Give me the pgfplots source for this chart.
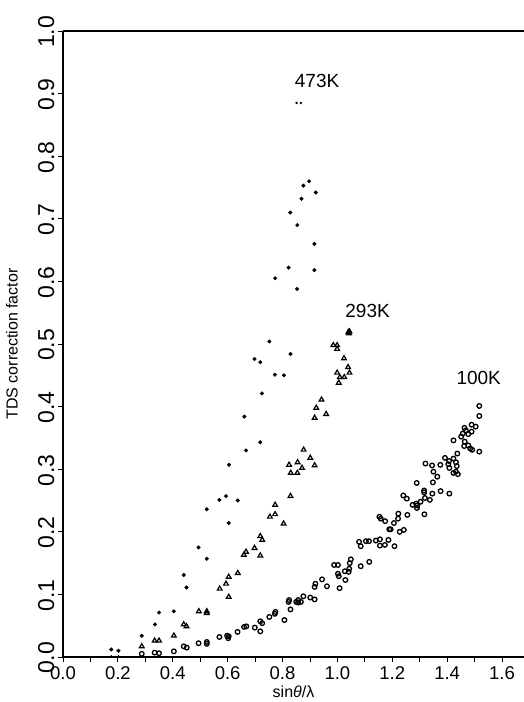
\documentclass[border=0pt]{standalone}
\usepackage{fontspec}
\setmainfont{Liberation Sans}
\usepackage{pgfplots}
\pgfplotsset{compat=1.18}

\pgfplotstableread{
x y
0.176 0.012
0.202 0.010
0.287 0.034
0.335 0.052
0.350 0.071
0.404 0.073
0.440 0.131
0.450 0.111
0.494 0.175
0.524 0.157
0.524 0.236
0.570 0.251
0.594 0.257
0.637 0.250
0.604 0.214
0.605 0.307
0.667 0.330
0.719 0.343
0.661 0.384
0.725 0.421
0.772 0.451
0.805 0.450
0.698 0.476
0.719 0.471
0.829 0.484
0.752 0.504
0.853 0.588
0.773 0.605
0.916 0.618
0.822 0.622
0.916 0.660
0.854 0.690
0.828 0.710
0.869 0.732
0.921 0.742
0.876 0.753
0.897 0.760
}\hot

\pgfplotstableread{
x y
0.000 0.000
0.176 0.001
0.202 0.001
0.851 0.885
0.867 0.885
}\hotsmall

\pgfplotstableread{
x y
1.040 0.519
1.044 0.520
1.042 0.517
0.985 0.498
0.999 0.498
0.999 0.492
1.024 0.477
1.039 0.463
0.999 0.454
1.009 0.447
1.025 0.447
1.044 0.454
1.005 0.438
0.942 0.411
0.923 0.398
0.959 0.388
0.917 0.382
0.877 0.331
0.901 0.318
0.855 0.311
0.824 0.307
0.917 0.306
0.871 0.302
0.830 0.294
0.854 0.294
0.829 0.257
0.773 0.243
0.754 0.224
0.773 0.228
0.804 0.213
0.719 0.193
0.726 0.187
0.698 0.174
0.659 0.163
0.667 0.168
0.719 0.162
0.637 0.134
0.604 0.128
0.594 0.117
0.571 0.109
0.604 0.096
0.495 0.073
0.524 0.073
0.524 0.070
0.440 0.052
0.450 0.049
0.404 0.034
0.334 0.026
0.350 0.026
0.287 0.017
}\room

\pgfplotstableread{
x y
0.287 0.005
0.334 0.007
0.350 0.006
0.404 0.009
0.440 0.017
0.451 0.015
0.494 0.022
0.524 0.024
0.524 0.021
0.570 0.032
0.598 0.034
0.602 0.030
0.604 0.033
0.636 0.040
0.660 0.048
0.668 0.049
0.699 0.047
0.719 0.057
0.719 0.041
0.726 0.054
0.752 0.064
0.772 0.069
0.774 0.072
0.807 0.059
0.824 0.091
0.829 0.076
0.822 0.088
0.850 0.088
0.857 0.091
0.857 0.087
0.867 0.088
0.876 0.097
0.901 0.095
0.917 0.092
0.917 0.112
0.920 0.117
0.944 0.124
0.962 0.113
0.988 0.147
1.002 0.147
1.002 0.133
1.005 0.129
1.008 0.110
1.027 0.137
1.029 0.123
1.041 0.136
1.043 0.141
1.045 0.150
1.049 0.156
1.085 0.145
1.116 0.152
1.079 0.184
1.085 0.177
1.104 0.185
1.115 0.185
1.140 0.186
1.155 0.188
1.155 0.178
1.173 0.179
1.186 0.187
1.189 0.204
1.194 0.204
1.208 0.177
1.153 0.224
1.158 0.221
1.174 0.217
1.206 0.214
1.221 0.221
1.222 0.229
1.227 0.200
1.242 0.203
1.255 0.227
1.240 0.258
1.253 0.253
1.274 0.243
1.287 0.245
1.290 0.238
1.291 0.242
1.303 0.248
1.319 0.254
1.337 0.251
1.317 0.228
1.289 0.278
1.316 0.266
1.316 0.263
1.346 0.261
1.348 0.279
1.376 0.265
1.408 0.261
1.321 0.309
1.345 0.306
1.375 0.307
1.350 0.296
1.364 0.288
1.408 0.302
1.432 0.296
1.423 0.294
1.439 0.292
1.437 0.325
1.423 0.317
1.407 0.313
1.392 0.318
1.404 0.308
1.432 0.311
1.435 0.305
1.423 0.346
1.451 0.352
1.457 0.357
1.464 0.344
1.462 0.337
1.477 0.338
1.484 0.333
1.491 0.331
1.517 0.328
1.463 0.366
1.468 0.362
1.477 0.356
1.489 0.360
1.489 0.371
1.504 0.368
1.517 0.385
1.517 0.401
}\cold

\begin{document}
\begin{tikzpicture}
\begin{axis}[
  width=461pt, height=626pt, scale only axis,
  xmin=0, xmax=1.68, ymin=0, ymax=1.0,
  axis x line=bottom, axis y line=left,
  axis line style={-, line width=2.4pt},
  tick align=outside, major tick length=5pt, minor tick length=5pt,
  tick style={black, line width=0.8pt},
  xtick={0,0.2,...,1.6}, minor x tick num=1,
  ytick={0,0.1,...,1.0},
  /pgf/number format/fixed, /pgf/number format/fixed zerofill,
  /pgf/number format/precision=1,
  /pgf/number format/assume math mode=true,
  xticklabel style={font=\fontsize{18.5}{18.5}\selectfont, yshift=-1pt},
  yticklabel style={font=\fontsize{23}{23}\selectfont, rotate=90, anchor=south, xshift=-1pt},
  xlabel={sin\textit{θ}/λ},
  ylabel={TDS correction factor},
  every axis x label/.style={at={(rel axis cs:0.5,0)}, anchor=north, inner sep=0pt,
    yshift=-29pt, font=\fontsize{16}{16}\selectfont},
  every axis y label/.style={at={(rel axis cs:-0.124,0.5)}, rotate=90, anchor=north,
    inner sep=0pt, font=\fontsize{16}{16}\selectfont},
  clip=false,
]
\addplot[only marks, mark=*, mark size=1.8pt, black] table {\hot};
\addplot[only marks, mark=*, mark size=1.0pt, black] table {\hotsmall};
\addplot[only marks, mark=triangle, mark size=2.7pt, black, mark options={line width=1.2pt}] table {\room};
\addplot[only marks, mark=o, mark size=2.3pt, black, mark options={line width=1.3pt}] table {\cold};
\draw[line width=2.4pt] (rel axis cs:0,1) -- (rel axis cs:1,1);
\node[font=\fontsize{19}{19}\selectfont] at (axis cs:0.926,0.920) {473K};
\node[font=\fontsize{19}{19}\selectfont] at (axis cs:1.110,0.553) {293K};
\node[font=\fontsize{19}{19}\selectfont] at (axis cs:1.515,0.445) {100K};
\coordinate (ll) at (rel axis cs:0,0);
\coordinate (ur) at (rel axis cs:1,1);
\end{axis}
\pgfresetboundingbox
\path (ll) ++(-63pt,-45pt) coordinate (a);
\path (ur) ++(0pt,31pt) coordinate (b);
\path (a) rectangle (b);
\end{tikzpicture}
\end{document}
